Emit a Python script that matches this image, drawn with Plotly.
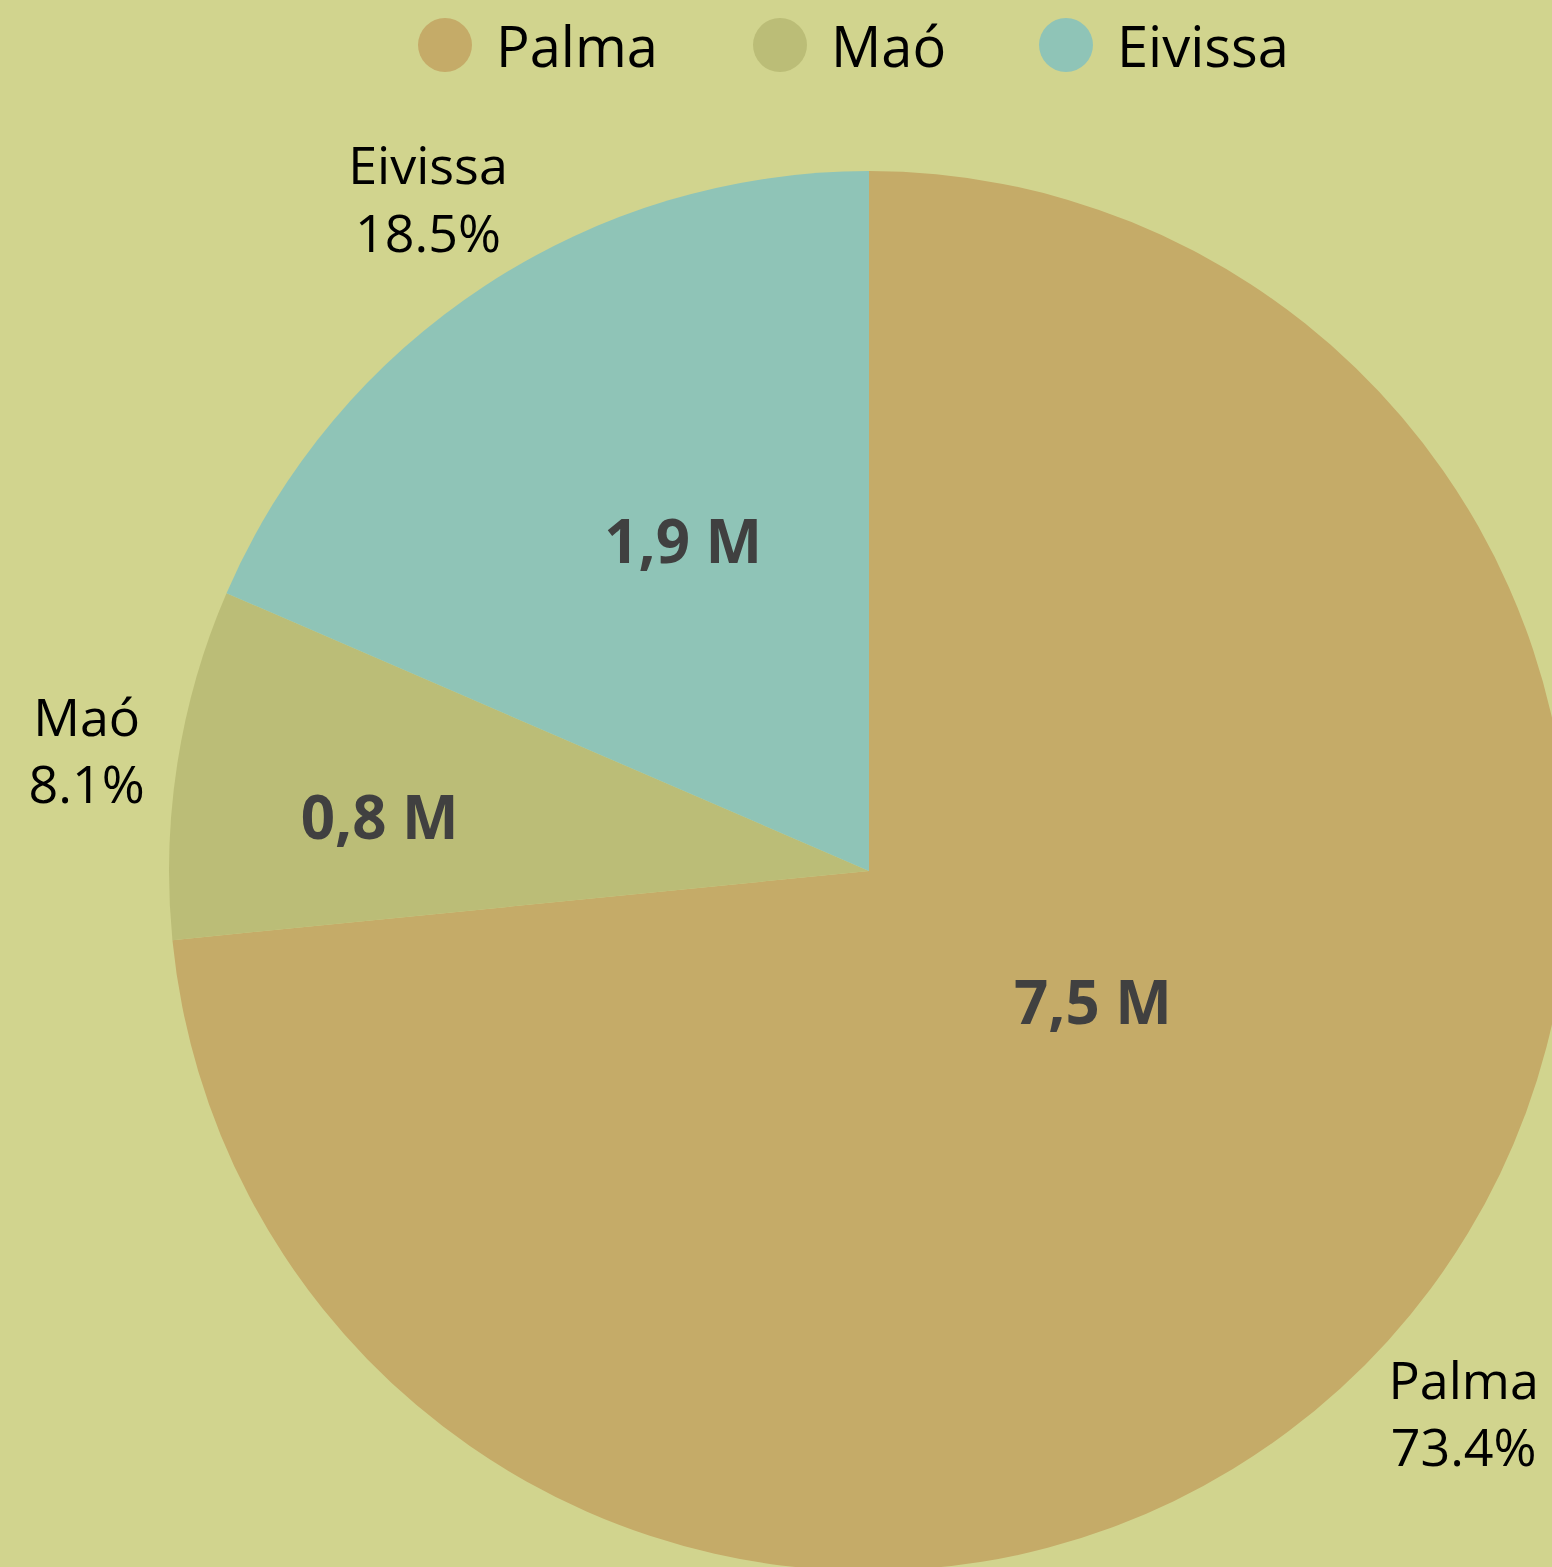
import plotly.graph_objects as go

# ---- data ----
ports = ["Palma", "Maó", "Eivissa"]
passengers_m = [7.46, 0.82, 1.88]   # millions
colors = ["#c5ab68", "#bbbd77", "#8fc4b7"]
inside_labels = [f"{v:.1f}".replace(".", ",") + " M" for v in passengers_m]

BG = "#d1d48e"
FONT = "Open Sans"
TRANSPARENT = ["rgba(0,0,0,0)"] * len(ports)

W, H = 1580, 1580
L, T, R_, B = 169, 171, W - 1569, H - 1571   # plot area 1400 x 1400

fig = go.Figure()

# main pie (slices only)
fig.add_trace(go.Pie(
    labels=ports, values=passengers_m, sort=False, direction="clockwise", rotation=0,
    marker=dict(colors=colors, line=dict(width=0)),
    textinfo="none", showlegend=False, hoverinfo="label+percent+value",
))


def text_overlay(show, template, position, rotation=0, k=1.0, **font):
    """Transparent copy of the pie that only carries texts for the slices in `show`."""
    tmpl = [template if p in show else "" for p in ports]
    kw = dict(textfont=font) if position == "inside" else dict(outsidetextfont=font)
    return go.Pie(
        labels=ports, values=passengers_m, sort=False, direction="clockwise",
        rotation=rotation,
        domain=dict(x=[0.5 - k / 2, 0.5 + k / 2], y=[0.5 - k / 2, 0.5 + k / 2]),
        marker=dict(colors=TRANSPARENT, line=dict(width=0)),
        text=inside_labels, texttemplate=tmpl, textposition=position,
        insidetextorientation="horizontal",
        showlegend=False, hoverinfo="skip", **kw,
    )


inside_font = dict(family=FONT, size=60, color="#404040", weight="bold")
outside_font = dict(family=FONT, size=52, color="#000000")

# inside value labels
fig.add_trace(text_overlay({"Palma"}, "%{text}", "inside", rotation=-12, k=0.74, **inside_font))
fig.add_trace(text_overlay({"Eivissa"}, "%{text}", "inside", rotation=4, k=0.84, **inside_font))
fig.add_trace(text_overlay({"Maó"}, "%{text}", "inside", rotation=-2.4, k=0.88, **inside_font))

# outside name / percent labels
pct_tmpl = "%{label}<br>%{percent:.1%}"
fig.add_trace(text_overlay({"Palma"}, pct_tmpl, "outside", rotation=4, **outside_font))
fig.add_trace(text_overlay({"Eivissa"}, pct_tmpl, "outside", rotation=5.5, **outside_font))
fig.add_trace(text_overlay({"Maó"}, pct_tmpl, "outside", rotation=1, **outside_font))

# ---- legend (circle + text), laid out along the top ----
legend_circle_px = [445, 780, 1066]   # circle centres, page pixels
legend_y_px = 45
legend_r = 27
shapes, annotations = [], []
for p, c, cx in zip(ports, colors, legend_circle_px):
    x0 = (cx - legend_r - L) / 1400
    x1 = (cx + legend_r - L) / 1400
    y0 = (H - B - (legend_y_px + legend_r)) / 1400
    y1 = (H - B - (legend_y_px - legend_r)) / 1400
    shapes.append(dict(type="circle", xref="paper", yref="paper",
                       x0=x0, x1=x1, y0=y0, y1=y1,
                       fillcolor=c, line=dict(width=0)))
    annotations.append(dict(text=p, xref="paper", yref="paper",
                            x=(cx + legend_r + 22 - L) / 1400,
                            y=(H - B - legend_y_px) / 1400,
                            xanchor="left", yanchor="middle", showarrow=False,
                            font=dict(family=FONT, size=56, color="#000000")))

fig.update_layout(
    width=W, height=H,
    paper_bgcolor=BG, plot_bgcolor=BG,
    margin=dict(l=L, r=R_, t=T, b=B),
    showlegend=False,
    shapes=shapes, annotations=annotations,
)

fig.write_html("out.html", config={"displayModeBar": False},
               post_script="document.body.style.margin='0';document.body.style.overflow='hidden';")
